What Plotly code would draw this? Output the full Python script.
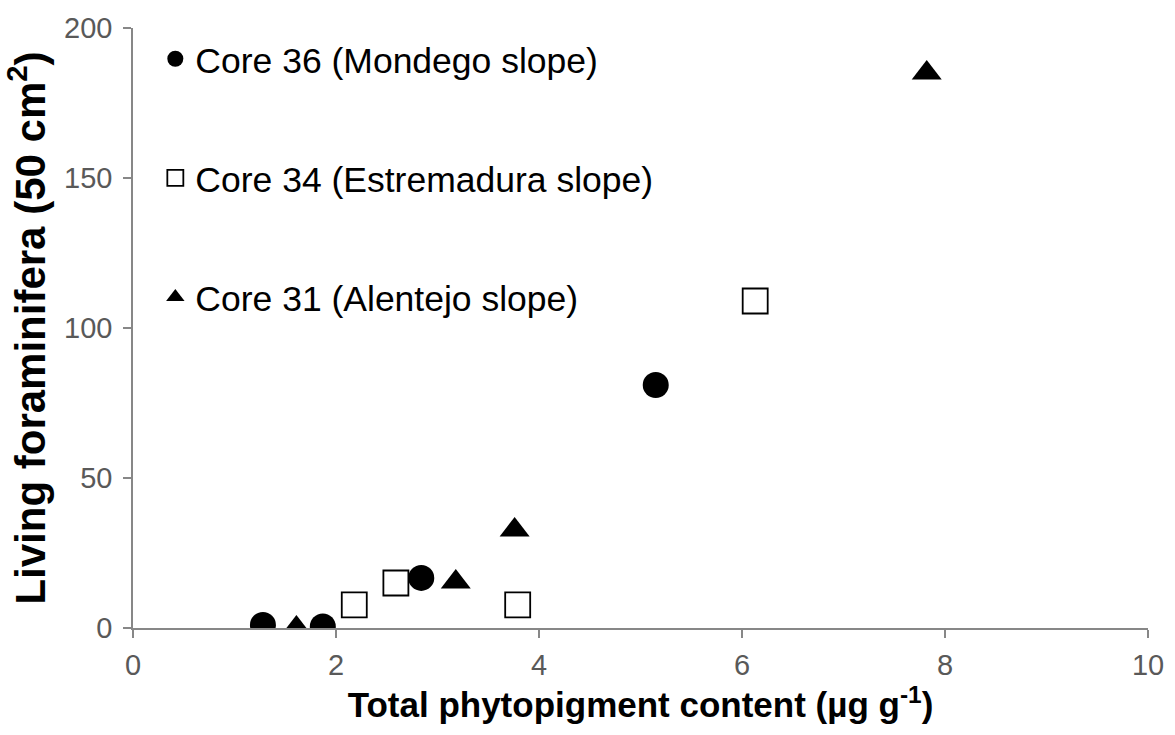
import plotly.graph_objects as go

# Data
core36_x = [1.28, 1.87, 2.84, 5.15]
core36_y = [1, 0.5, 16.7, 81]
core34_x = [2.18, 2.59, 3.79, 6.13]
core34_y = [7.7, 15, 7.7, 109]
core31_x = [1.61, 3.18, 3.76, 7.82]
core31_y = [0, 15.3, 32.7, 185]

names = ["Core 36 (Mondego slope)", "Core 34 (Estremadura slope)", "Core 31 (Alentejo slope)"]
x_ticks = [0, 2, 4, 6, 8, 10]
y_ticks = [0, 50, 100, 150, 200]

fig = go.Figure()
fig.add_trace(go.Scatter(x=core36_x, y=core36_y, mode="markers", name=names[0], legendgroup="a",
                         marker=dict(symbol="circle", size=26, color="black")))
fig.add_trace(go.Scatter(x=core34_x, y=core34_y, mode="markers", name=names[1], legendgroup="b",
                         marker=dict(symbol="square-open", size=25, color="black", line=dict(width=1.8))))
fig.add_trace(go.Scatter(x=core31_x, y=core31_y, mode="markers", name=names[2], legendgroup="c",
                         marker=dict(symbol="triangle-up", size=26, color="black")))

axis_common = dict(showgrid=False, zeroline=False, showline=True, linecolor="#878787", linewidth=1.5,
                   ticks="outside", ticklen=8, tickcolor="#878787", tickwidth=1.5,
                   tickfont=dict(family="Liberation Sans, Arial", size=29, color="#595959"))

fig.update_layout(
    width=1175, height=735,
    paper_bgcolor="white", plot_bgcolor="white",
    margin=dict(l=133, r=27, t=28, b=107, autoexpand=False),
    font=dict(family="Liberation Sans, Arial", color="black"),
    xaxis=dict(range=[0, 10], tickvals=x_ticks, ticklabelstandoff=2, **axis_common,
               title=dict(text="<b>Total phytopigment content (µg g<sup>-1</sup>)</b>",
                          font=dict(size=35, color="black"), standoff=10)),
    yaxis=dict(range=[0, 200], tickvals=y_ticks, ticklabelstandoff=5, **axis_common,
               title=dict(text="<b>Living foraminifera (50 cm<sup>2</sup>)</b>",
                          font=dict(size=42, color="black"), standoff=13)),
    legend=dict(x=0.022, y=0.998, xanchor="left", yanchor="top", bgcolor="rgba(0,0,0,0)",
                font=dict(size=35.5, color="black"), tracegroupgap=70, itemsizing="trace"),
    showlegend=True,
)

fig.write_html("out.html", config={"displayModeBar": False},
               post_script="document.body.style.margin='0';")
